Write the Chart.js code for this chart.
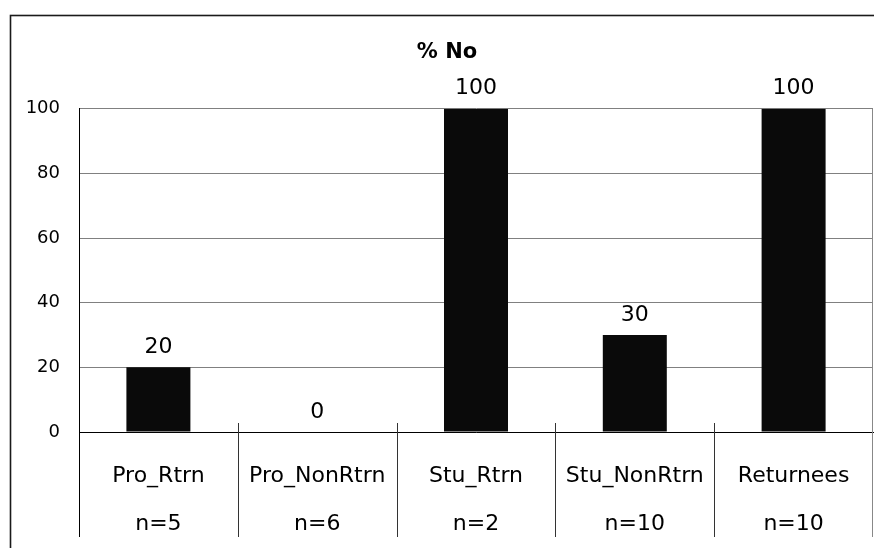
<!DOCTYPE html>
<html>
<head>
<meta charset="utf-8">
<script src="https://cdn.jsdelivr.net/npm/chart.js@4/dist/chart.umd.min.js"></script>
<style>
  html, body { margin: 0; padding: 0; background: #ffffff; overflow: hidden; }
  #wrap { position: relative; width: 874px; height: 548px; }
</style>
</head>
<body>
<div id="wrap"><canvas id="chart"></canvas></div>
<script>
// Groups, their sample sizes and the share answering "No"
const categories = ['Pro_Rtrn', 'Pro_NonRtrn', 'Stu_Rtrn', 'Stu_NonRtrn', 'Returnees'];
const sampleSizes = ['n=5', 'n=6', 'n=2', 'n=10', 'n=10'];
const percentNo = [20, 0, 100, 30, 100];
const yTicks = [0, 20, 40, 60, 80, 100];

const FONT = "'DejaVu Sans', sans-serif";
const TABLE_BOTTOM = 537;

// Outer frame of the chart box
const framePlugin = {
  id: 'frame',
  beforeDraw(chart) {
    const ctx = chart.ctx;
    ctx.save();
    ctx.strokeStyle = '#1a1a1a';
    ctx.lineWidth = 1.6;
    ctx.strokeRect(10.5, 15.5, 920, 620);
    ctx.restore();
  }
};

// Value labels above bars and the table-style dividers under the axis
const annotatePlugin = {
  id: 'annotate',
  afterDraw(chart) {
    const ctx = chart.ctx;
    const area = chart.chartArea;
    const xs = chart.scales.x;
    const meta = chart.getDatasetMeta(0);
    ctx.save();

    // value labels
    ctx.font = '22px ' + FONT;
    ctx.fillStyle = '#000';
    ctx.textAlign = 'center';
    ctx.textBaseline = 'middle';
    meta.data.forEach((bar, i) => {
      ctx.fillText(String(percentNo[i]), bar.x, bar.y - 20);
    });

    // dividers between categories
    ctx.lineWidth = 1;
    ctx.strokeStyle = '#333';
    for (let i = 1; i < categories.length; i++) {
      const bx = Math.round((xs.getPixelForValue(i - 1) + xs.getPixelForValue(i)) / 2) + 0.5;
      ctx.beginPath();
      ctx.moveTo(bx, area.bottom - 9);
      ctx.lineTo(bx, TABLE_BOTTOM);
      ctx.stroke();
    }
    // left axis extended down through the table
    ctx.strokeStyle = '#000';
    ctx.beginPath();
    ctx.moveTo(Math.round(area.left) + 0.5, area.bottom);
    ctx.lineTo(Math.round(area.left) + 0.5, TABLE_BOTTOM);
    ctx.stroke();
    // right edge of the plot and table
    ctx.strokeStyle = '#888';
    ctx.beginPath();
    ctx.moveTo(Math.round(area.right) - 0.5, area.top);
    ctx.lineTo(Math.round(area.right) - 0.5, TABLE_BOTTOM);
    ctx.stroke();
    ctx.restore();
  }
};

new Chart(document.getElementById('chart'), {
  type: 'bar',
  data: {
    labels: categories.map((c, i) => [c, sampleSizes[i]]),
    datasets: [{
      label: '% No',
      data: percentNo,
      backgroundColor: '#0a0a0a',
      borderWidth: 0,
      categoryPercentage: 1,
      barPercentage: 0.403
    }]
  },
  options: {
    responsive: true,
    maintainAspectRatio: false,
    animation: false,
    devicePixelRatio: 1,
    layout: { padding: { left: 21, right: 1, top: 16, bottom: 0 } },
    plugins: {
      legend: { display: false },
      tooltip: { enabled: false },
      title: {
        display: true,
        text: '% No',
        color: '#000',
        font: { family: FONT, size: 21, weight: 'bold', lineHeight: 1.2 },
        padding: { top: 23.5, bottom: 44 }
      }
    },
    scales: {
      x: {
        grid: { display: false, drawTicks: false },
        border: { display: true, color: '#000', width: 1 },
        ticks: {
          color: '#000',
          padding: 20,
          maxRotation: 0,
          autoSkip: false,
          font: { family: FONT, size: 22, lineHeight: '48px' }
        },
        afterFit(scale) { scale.height = 116; }
      },
      y: {
        min: 0,
        max: 100,
        afterBuildTicks(scale) { scale.ticks = yTicks.map(v => ({ value: v })); },
        grid: { color: '#808080', lineWidth: 1, drawTicks: false },
        border: { display: true, color: '#000', width: 1 },
        ticks: {
          color: '#000',
          padding: 19,
          font: { family: FONT, size: 18 }
        },
        afterFit(scale) { scale.width = 58; }
      }
    }
  },
  plugins: [framePlugin, annotatePlugin]
});
</script>
</body>
</html>
